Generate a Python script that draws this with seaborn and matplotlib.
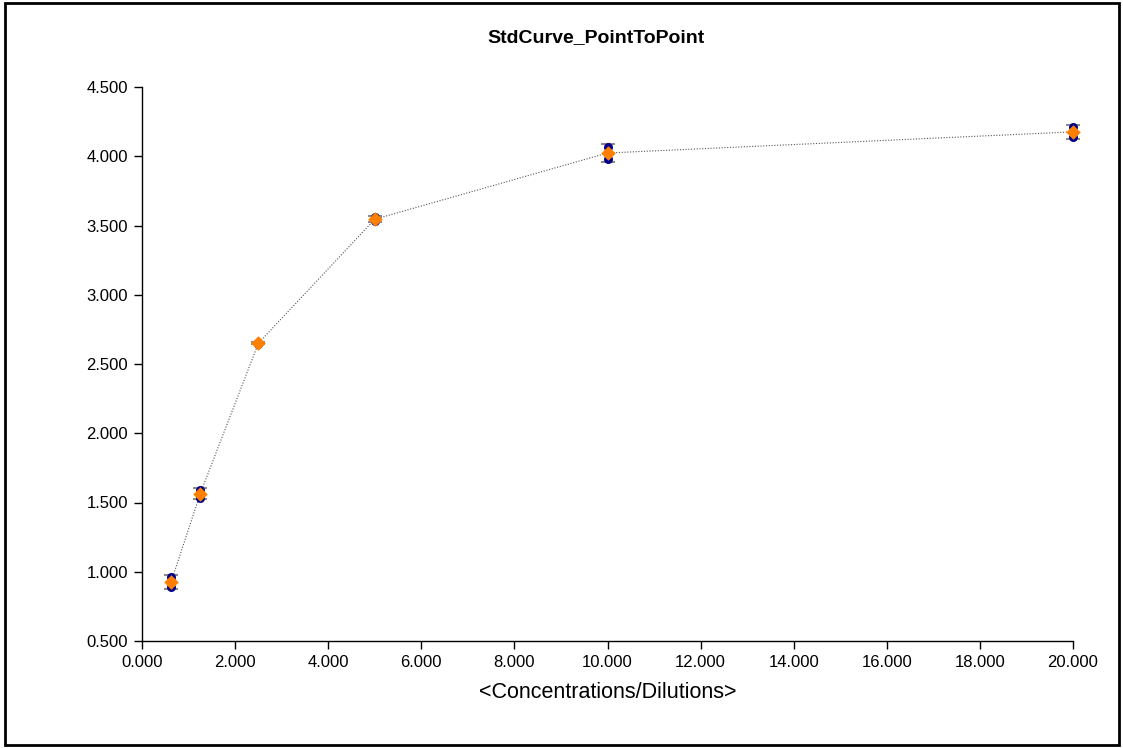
import numpy as np
import pandas as pd
import matplotlib
matplotlib.use("Agg")
import matplotlib.pyplot as plt
import seaborn as sns
from matplotlib.patches import Rectangle

conc = [0.625, 1.25, 2.5, 5.0, 10.0, 20.0]
rep1 = [0.962, 1.590, 2.655, 3.560, 4.067, 4.212]
rep2 = [0.890, 1.535, 2.645, 3.530, 3.980, 4.140]

title = "StdCurve_PointToPoint"
xlabel = "<Concentrations/Dilutions>"
xticks = [0, 2, 4, 6, 8, 10, 12, 14, 16, 18, 20]
yticks = [0.5, 1.0, 1.5, 2.0, 2.5, 3.0, 3.5, 4.0, 4.5]

sns.set_style("white", {"text.color": "black", "axes.labelcolor": "black",
                        "xtick.color": "black", "ytick.color": "black"})
plt.rcParams['font.family'] = ['Liberation Sans', 'DejaVu Sans']

reps = pd.DataFrame({
    "x": conc * 2,
    "y": rep1 + rep2,
})
means = reps.groupby("x", as_index=False)["y"].mean()
sds = reps.groupby("x")["y"].std().values

fig = plt.figure(figsize=(11.23, 7.48), dpi=100)
ax = fig.add_axes([142/1123, 1-641/748, (1073-142)/1123, (641-87)/748])

# dotted connecting line through means
sns.lineplot(data=means, x="x", y="y", ax=ax, color="#555555", lw=0.8,
             linestyle=(0, (1, 1.5)), zorder=1, clip_on=False)
# error bars
eb = ax.errorbar(means["x"], means["y"], yerr=sds, fmt="none", ecolor="#8c8c8c",
                 elinewidth=1.2, capsize=5, capthick=1.5, zorder=2)
for art in eb.lines[1] + eb.lines[2]:
    art.set_clip_on(False)
# replicates
sns.scatterplot(data=reps, x="x", y="y", ax=ax, color="#00008B", s=42,
                marker="o", edgecolor="#00008B", linewidth=0, zorder=3,
                clip_on=False)
# means
sns.scatterplot(data=means, x="x", y="y", ax=ax, color="#FF8000", s=55,
                marker="D", edgecolor="#FF8000", linewidth=0, zorder=4,
                clip_on=False)

ax.set_xlim(0, 20)
ax.set_ylim(0.5, 4.5)
ax.set_xticks(xticks)
ax.set_yticks(yticks)
ax.set_xticklabels([f"{v:.3f}" for v in xticks], fontsize=12)
ax.set_yticklabels([f"{v:.3f}" for v in yticks], fontsize=12)
ax.tick_params(axis="both", direction="out", length=6, width=1, color="black",
               labelcolor="black", pad=4, bottom=True, left=True)
for s in ["top", "right"]:
    ax.spines[s].set_visible(False)
for s in ["left", "bottom"]:
    ax.spines[s].set_color("black")
    ax.spines[s].set_linewidth(1)
ax.set_xlabel(xlabel, fontsize=15.5, labelpad=9, color="black")
ax.set_ylabel("")
fig.text(596/1123, 1-38/748, title, ha="center", va="center",
         fontsize=14, fontweight="bold", color="black")

fig.patches.append(Rectangle((5/1123, 3/748), (1119-5)/1123, (745-3)/748,
                             transform=fig.transFigure, fill=False,
                             edgecolor="black", linewidth=2))

fig.savefig("out.png", dpi=100)
